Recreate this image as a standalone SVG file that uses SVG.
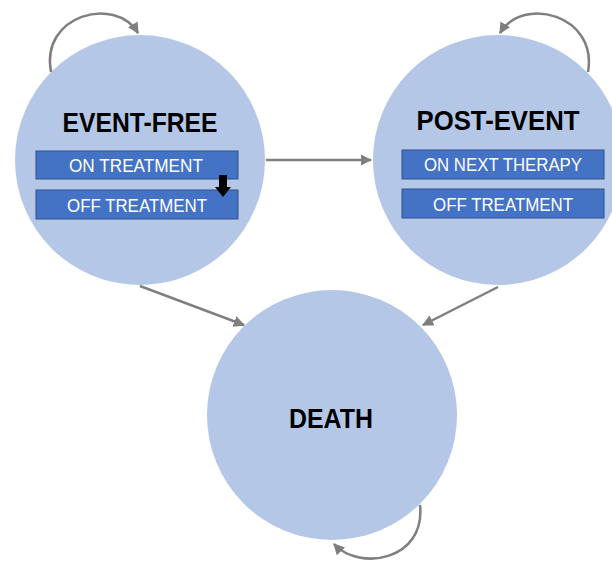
<svg xmlns="http://www.w3.org/2000/svg" width="612" height="565" viewBox="0 0 612 565">
<style>
.st{fill:#B4C7E7;}
.title{font-family:"Liberation Sans",Arial,sans-serif;font-weight:bold;font-size:28px;fill:#000;text-anchor:middle;}
.box{fill:#4472C4;stroke:#2F528F;stroke-width:1;}
.bt{font-family:"Liberation Sans",Arial,sans-serif;font-size:18px;fill:#fff;text-anchor:middle;}
.c{fill:none;stroke:#7F7F7F;stroke-width:2.5;marker-end:url(#ah);}
</style>
<defs>
<marker id="ah" viewBox="0 0 10 10" refX="9" refY="5" markerWidth="4.5" markerHeight="4.5" orient="auto" markerUnits="strokeWidth">
<path d="M0,0 L10,5 L0,10 Z" fill="#7F7F7F"/>
</marker>
</defs>
<rect width="612" height="565" fill="#fff"/>
<g id="event-free">
<circle class="st" cx="140" cy="160" r="125"/>
<text class="title" x="140" y="132" textLength="155" lengthAdjust="spacingAndGlyphs">EVENT-FREE</text>
<rect class="box" x="36" y="151" width="202" height="28"/>
<text class="bt" x="136" y="172" textLength="134" lengthAdjust="spacingAndGlyphs">ON TREATMENT</text>
<rect class="box" x="36" y="190" width="202" height="29"/>
<text class="bt" x="137" y="212" textLength="140" lengthAdjust="spacingAndGlyphs">OFF TREATMENT</text>
<path d="M219,175 H227 V187 H231 L223,197 L215,187 H219 Z" fill="#000"/>
</g>
<g id="post-event">
<circle class="st" cx="498" cy="160" r="125"/>
<text class="title" x="498" y="130" textLength="163" lengthAdjust="spacingAndGlyphs">POST-EVENT</text>
<rect class="box" x="402" y="150" width="202" height="29"/>
<text class="bt" x="503" y="171" textLength="158" lengthAdjust="spacingAndGlyphs">ON NEXT THERAPY</text>
<rect class="box" x="402" y="189" width="202" height="29"/>
<text class="bt" x="503" y="211" textLength="140" lengthAdjust="spacingAndGlyphs">OFF TREATMENT</text>
</g>
<g id="death">
<circle class="st" cx="332" cy="415" r="125"/>
<text class="title" x="331" y="428" textLength="84" lengthAdjust="spacingAndGlyphs">DEATH</text>
</g>
<g id="connectors">
<path class="c" d="M266,160 H371"/>
<path class="c" d="M140,286 L244,325"/>
<path class="c" d="M498,287 L423,325"/>
<path class="c" d="M51,72 C40,15 115,-5 138,33"/>
<path class="c" d="M588,72 C598,15 523,-5 500,33"/>
<path class="c" d="M420,505 C426,560 360,572 334,544"/>
</g>
</svg>
